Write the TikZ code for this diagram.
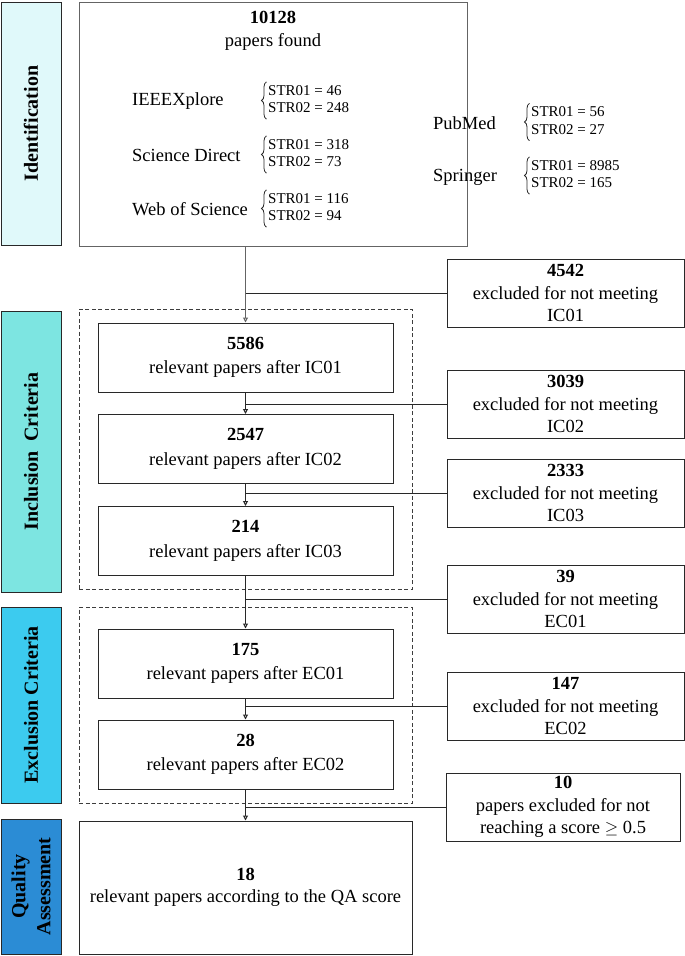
\documentclass[tikz,border=0pt]{standalone}
\usepackage{fontspec}
\setmainfont{Liberation Serif}
\usetikzlibrary{arrows.meta,decorations.pathreplacing}
\definecolor{cIdent}{RGB}{224,249,250}
\definecolor{cIncl}{RGB}{125,229,225}
\definecolor{cExcl}{RGB}{60,203,239}
\definecolor{cQual}{RGB}{43,140,213}
\definecolor{lineC}{RGB}{40,40,40}
\definecolor{greyC}{RGB}{100,100,100}
\tikzset{
  bar/.style={draw=lineC, line width=1pt, rotate=90, minimum height=60pt, inner sep=0pt, align=center,
    font=\fontsize{20}{25}\selectfont\bfseries},
  stepbox/.style={draw=lineC, line width=1pt, minimum width=295pt, minimum height=69pt, align=center, inner sep=0pt},
  exbox/.style={draw=lineC, line width=1pt, minimum width=237pt, minimum height=68pt, align=center, inner sep=0pt},
  dashbox/.style={draw=lineC!90, dash pattern=on 4pt off 2.5pt, line width=0.9pt, minimum width=333pt, inner sep=0pt},
  src/.style={anchor=west, inner sep=0pt},
  strs/.style={anchor=west, inner sep=0pt, font=\fontsize{15}{17.5}\selectfont},
  brc/.style={draw=lineC, line width=0.8pt, decorate, decoration={brace, amplitude=5pt}},
  conn/.style={draw=lineC, line width=1pt},
  arr/.style={conn, -{Triangle[open,length=5pt,width=5pt]}},
}
\newcommand{\strpair}[2]{\begin{tabular}{@{}l@{}}STR01 = #1\\STR02 = #2\end{tabular}}
\begin{document}
\begin{tikzpicture}[x=1pt,y=-1pt, font=\fontsize{18.5}{22.5}\selectfont]
\useasboundingbox (0,0) rectangle (685,956);
% side bars
\node[bar, fill=cIdent, minimum width=243pt] (sIdent) at (31,123.5) {Identification};
\node[bar, fill=cIncl, minimum width=281pt] (sIncl) at (31,451.5) {Inclusion\ \ Criteria};
\node[bar, fill=cExcl, minimum width=196pt] (sExcl) at (31,705) {Exclusion Criteria};
\node[bar, fill=cQual, minimum width=135pt] (sQual) at (31,886.5) {Quality\\Assessment};
% identification box
\node[draw=greyC, line width=1pt, minimum width=388pt, minimum height=244pt, inner sep=0pt] (main) at (273,124) {};
\node[align=center, inner sep=0pt] (title) at (273,31) {\textbf{10128}\\papers found};
\node[src] (ieee) at (132,101) {IEEEXplore};
\node[strs] (ieeeS) at (268,100.5) {\strpair{46}{248}};
\node[src] (sd) at (132,155) {Science Direct};
\node[strs] (sdS) at (268,154.5) {\strpair{318}{73}};
\node[src] (wos) at (132,209) {Web of Science};
\node[strs] (wosS) at (268,208.5) {\strpair{116}{94}};
\node[src] (pm) at (433,123) {PubMed};
\node[strs] (pmS) at (531,122) {\strpair{56}{27}};
\node[src] (spr) at (433,177) {Springer};
\node[strs] (sprS) at (531,175.5) {\strpair{8985}{165}};
\foreach \s in {ieeeS,sdS,wosS,pmS,sprS}{
  \draw[brc] ([xshift=-1.5pt,yshift=-1pt]\s.south west) -- ([xshift=-1.5pt,yshift=1pt]\s.north west);
}
% dashed groups
\node[dashbox, minimum height=280pt] (gIncl) at (245.5,449) {};
\node[dashbox, minimum height=196pt] (gExcl) at (245.5,705) {};
% step boxes
\node[stepbox] (b1) at (245.5,357.5) {\textbf{5586}\\[2pt]relevant papers after IC01};
\node[stepbox] (b2) at (245.5,449) {\textbf{2547}\\[2pt]relevant papers after IC02};
\node[stepbox] (b3) at (245.5,541) {\textbf{214}\\[2pt]relevant papers after IC03};
\node[stepbox] (b4) at (245.5,663.5) {\textbf{175}\\[2pt]relevant papers after EC01};
\node[stepbox] (b5) at (245.5,754.5) {\textbf{28}\\[2pt]relevant papers after EC02};
\node[draw=lineC, line width=1pt, minimum width=333pt, minimum height=133pt, align=center, inner sep=0pt] (q) at (245.5,887.5) {\textbf{18}\\relevant papers according to the QA score};
% exclusion boxes
\node[exbox] (r1) at (565.5,293) {\textbf{4542}\\excluded for not meeting\\IC01};
\node[exbox] (r2) at (565.5,404) {\textbf{3039}\\excluded for not meeting\\IC02};
\node[exbox] (r3) at (565.5,493) {\textbf{2333}\\excluded for not meeting\\IC03};
\node[exbox] (r4) at (565.5,599) {\textbf{39}\\excluded for not meeting\\EC01};
\node[exbox] (r5) at (565.5,706) {\textbf{147}\\excluded for not meeting\\EC02};
\node[exbox, minimum width=234pt] (r6) at (563,807) {\textbf{10}\\papers excluded for not\\reaching a score $\geq$ 0.5};
% connectors
\draw[arr, draw=greyC] (b1.north |- main.south) -- (b1.north);
\draw[conn] (b1.north |- r1.west) -- (r1.west);
\draw[arr] (b1.south) -- (b2.north);
\draw[conn] (b1.south |- r2.west) -- (r2.west);
\draw[arr] (b2.south) -- (b3.north);
\draw[conn] (b2.south |- r3.west) -- (r3.west);
\draw[arr] (b3.south) -- (b4.north);
\draw[conn] (b3.south |- r4.west) -- (r4.west);
\draw[arr] (b4.south) -- (b5.north);
\draw[conn] (b4.south |- r5.west) -- (r5.west);
\draw[arr] (b5.south) -- (b5.south |- q.north);
\draw[conn] (b5.south |- r6.west) -- (r6.west);
\end{tikzpicture}
\end{document}
